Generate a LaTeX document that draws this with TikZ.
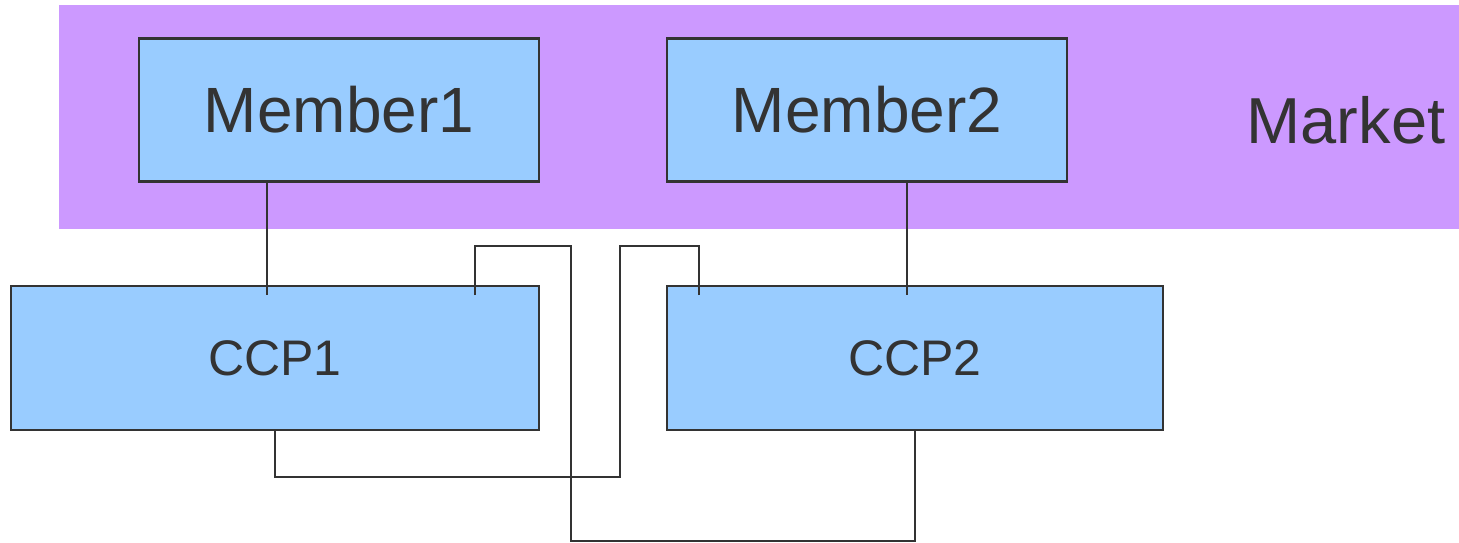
\documentclass[tikz,border=0pt]{standalone}
\usepackage{fontspec}
\setmainfont{Liberation Sans}
\definecolor{lila}{HTML}{CC99FF}
\definecolor{himmel}{HTML}{99CCFF}
\definecolor{tinte}{HTML}{333333}
\tikzset{
  box/.style={draw=tinte, fill=himmel, line width=2.3pt, text=tinte, inner sep=0pt},
  wire/.style={draw=tinte, line width=2pt},
}
\begin{document}
\begin{tikzpicture}[x=1pt, y=-1pt]
        \useasboundingbox (0,0) rectangle (1459,543);
        % market band
        \node[fill=lila, inner sep=0pt, minimum width=1400pt, minimum height=224pt] (band) at (759,117) {};
        \node[text=tinte, font=\fontsize{65}{70}\selectfont] (market) at (1346,120) {Market};
        % members and ccps
        \node[box, minimum width=400pt, minimum height=143pt, font=\fontsize{64}{70}\selectfont] (m1) at (339,110) {Member1};
        \node[box, minimum width=400pt, minimum height=143pt, font=\fontsize{64}{70}\selectfont] (m2) at (867,110) {Member2};
        \node[box, minimum width=528pt, minimum height=144pt, font=\fontsize{50}{56}\selectfont] (c1) at (275,358) {CCP1};
        \node[box, minimum width=496pt, minimum height=144pt, font=\fontsize{50}{56}\selectfont] (c2) at (915,358) {CCP2};
        % define point
        \coordinate (p1) at (267,295);
        \coordinate (p2) at (907,295);
        \coordinate (q1) at (475,295);
        \coordinate (q2) at (699,295);
        % links
        \draw[wire] (p1 |- m1.south) -- (p1);
        \draw[wire] (p2 |- m2.south) -- (p2);
        \draw[wire] (q1) |- (571,246) -- (571,541) -| (c2.south);
        \draw[wire] (q2) |- (620,246) -- (620,477) -| (c1.south);
    \end{tikzpicture}
\end{document}
